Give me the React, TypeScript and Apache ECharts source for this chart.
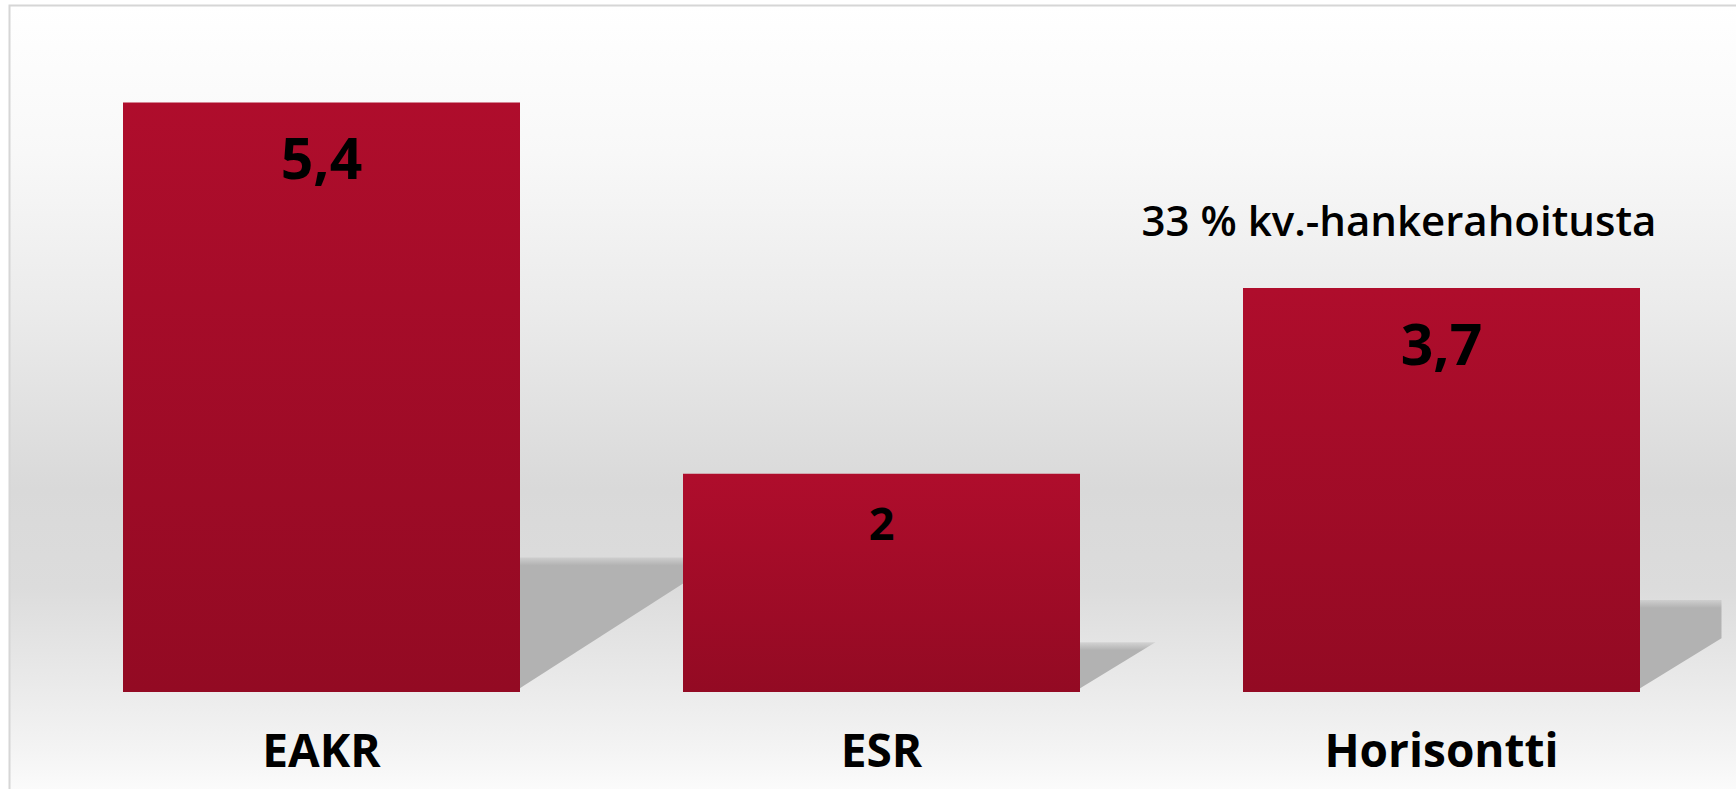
import React, { useEffect, useRef } from "react";
import * as echarts from "echarts";

const categories = ["EAKR", "ESR", "Horisontti"];
const values = [5.4, 2, 3.7];
const valueLabelSizes = [57, 45, 57];
const annotationText = "33 % kv.-hankerahoitusta";

const BAR_WIDTH = 397;
const SHADOW_RATIO = 0.228;
const SHADOW_SLOPE = 0.66;

export default function App() {
  const ref = useRef<HTMLDivElement>(null);
  useEffect(() => {
    if (!ref.current) return;
    const chart = echarts.init(ref.current, null, { renderer: "svg" });
    const font = "'Open Sans', 'Noto Sans', sans-serif";
    const option: any = {
      animation: false,
      graphic: [
        {
          type: "rect",
          z: -10,
          silent: true,
          shape: { x: 9.5, y: 5.5, width: 1800, height: 820 },
          style: {
            stroke: "#d6d6d6",
            lineWidth: 2,
            fill: new echarts.graphic.LinearGradient(0, 0, 0, 1, [
              { offset: 0, color: "#ffffff" },
              { offset: 0.18, color: "#f8f8f8" },
              { offset: 0.37, color: "#ebebeb" },
              { offset: 0.59, color: "#d9d9d9" },
              { offset: 0.71, color: "#dcdcdc" },
              { offset: 0.82, color: "#e9e9e9" },
              { offset: 0.91, color: "#f4f4f4" },
              { offset: 0.97, color: "#fdfdfd" },
              { offset: 1, color: "#ffffff" },
            ]),
          },
        },
        {
          type: "text",
          z: 10,
          x: 1399,
          y: 219,
          style: {
            text: annotationText,
            font: `600 42px ${font}`,
            fill: "#000",
            align: "center",
            verticalAlign: "middle",
          },
        },
      ],
      grid: { left: 41.5, right: 14.5, top: 37, bottom: 97 },
      xAxis: {
        type: "category",
        data: categories,
        axisLine: { show: false },
        axisTick: { show: false },
        splitLine: { show: false },
        axisLabel: {
          margin: 34,
          color: "#000",
          fontSize: 46,
          fontWeight: "bold",
          fontFamily: font,
        },
      },
      yAxis: {
        type: "value",
        min: 0,
        max: 6,
        show: false,
        splitLine: { show: false },
      },
      series: [
        {
          type: "custom",
          z: 1,
          silent: true,
          data: values.map((v, i) => [i, v]),
          renderItem: (params: any, api: any) => {
            const cat = api.value(0);
            const v = api.value(1);
            const base = api.coord([cat, 0]);
            const top = api.coord([cat, v]);
            const h = base[1] - top[1];
            const sh = h * SHADOW_RATIO;
            const dx = sh / SHADOW_SLOPE;
            const R = base[0] + BAR_WIDTH / 2;
            const L = R - 6;
            const yTop = base[1] - sh;
            const clipX = params.coordSys.x + params.coordSys.width;
            let points: number[][];
            if (R + dx <= clipX) {
              points = [
                [L, yTop],
                [R + dx, yTop],
                [L, base[1]],
              ];
            } else {
              const yc = base[1] - (clipX - R) * SHADOW_SLOPE;
              points = [
                [L, yTop],
                [clipX, yTop],
                [clipX, yc],
                [L, base[1]],
              ];
            }
            return {
              type: "polygon",
              shape: { points },
              style: {
                fill: new echarts.graphic.LinearGradient(
                  0,
                  yTop - 4,
                  0,
                  yTop + 8,
                  [
                    { offset: 0, color: "rgba(178,178,178,0)" },
                    { offset: 1, color: "rgba(178,178,178,1)" },
                  ],
                  true
                ),
              },
            };
          },
        },
        {
          type: "bar",
          z: 2,
          barWidth: BAR_WIDTH,
          data: values.map((v, i) => ({
            value: v,
            label: { fontSize: valueLabelSizes[i] },
          })),
          itemStyle: {
            color: new echarts.graphic.LinearGradient(0, 0, 0, 1, [
              { offset: 0, color: "#af0d2c" },
              { offset: 1, color: "#930a23" },
            ]),
          },
          label: {
            show: true,
            position: "insideTop",
            distance: 26,
            color: "#000",
            fontWeight: "bold",
            fontFamily: font,
            formatter: (p: any) => String(p.value).replace(".", ","),
          },
        },
      ],
    };
    chart.setOption(option);
    return () => chart.dispose();
  }, []);
  return (
    <div
      ref={ref}
      style={{ position: "absolute", left: 0, top: 0, width: 1736, height: 789 }}
    />
  );
}
